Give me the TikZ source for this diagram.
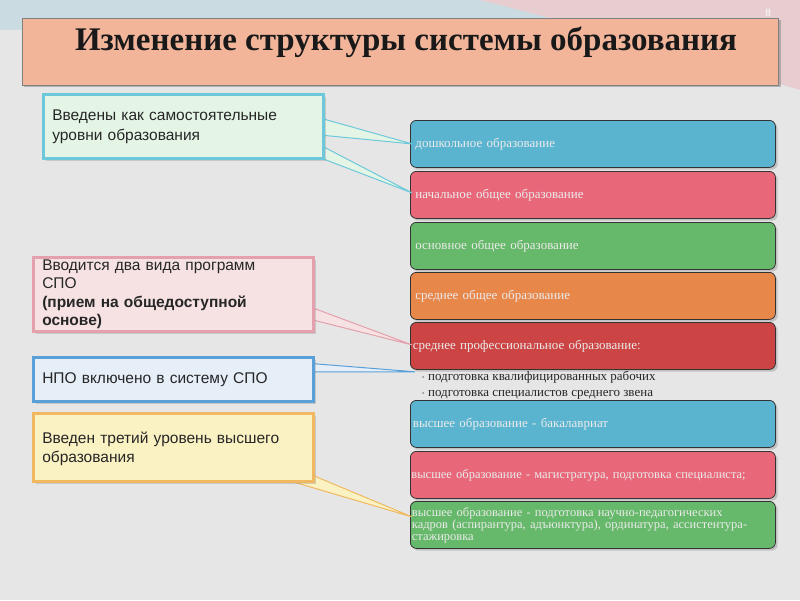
\documentclass[tikz,border=0pt]{standalone}
\usepackage{fontspec}
\setmainfont{Liberation Serif}
\newfontfamily\callfont{Liberation Sans}
\usetikzlibrary{calc,shadows}
\definecolor{bg}{HTML}{E6E6E6}
\definecolor{titlebg}{HTML}{F2B59A}
\definecolor{cblue}{HTML}{5AB4D0}
\definecolor{cpink}{HTML}{E8687A}
\definecolor{cgreen}{HTML}{66B86A}
\definecolor{corange}{HTML}{E8874A}
\definecolor{cred}{HTML}{CC4444}
\definecolor{k1f}{HTML}{E4F5E6}\definecolor{k1d}{HTML}{6CC8DA}
\definecolor{k2f}{HTML}{F6E2E2}\definecolor{k2d}{HTML}{E4A0AC}
\definecolor{k3f}{HTML}{E6EEF8}\definecolor{k3d}{HTML}{5AA0D8}
\definecolor{k4f}{HTML}{FBF2C4}\definecolor{k4d}{HTML}{F0B860}
\tikzset{
 bar/.style={draw=black!80,line width=0.8pt,rounded corners=6pt,minimum width=365pt,minimum height=47pt,anchor=north west,text width=355pt,align=left,font=\fontsize{13}{13.5}\selectfont,text=white!92!black,inner xsep=5pt,drop shadow={opacity=0.35}},
 callout/.style={line width=2.5pt,anchor=north west,align=left,font=\callfont\fontsize{15.5}{19.5}\selectfont,text=black!85,inner xsep=9pt,text width=262pt,drop shadow={opacity=0.3}},
}
\begin{document}
\begin{tikzpicture}[x=1pt,y=-1pt]
\useasboundingbox (0,0) rectangle (800,600);
\fill[bg] (0,0) rectangle (800,600);
\fill[cblue!20!bg] (0,0) rectangle (800,30);
\fill[cpink!20!bg] (480,0) .. controls (600,30) and (700,60) .. (800,90) -- (800,0) -- cycle;
% title
\node[fill=titlebg,draw=black!50,drop shadow={opacity=0.5},minimum width=756pt,minimum height=67pt,anchor=north west] (title) at (22,18) {};
\node[font=\bfseries\fontsize{33}{36}\selectfont,text=black!90] (tt) at (406,42) {Изменение структуры системы образования};
\node[font=\fontsize{11}{11}\selectfont,text=white] (num) at (768,13) {8};
% bars
\node[bar,fill=cblue]   (b1) at (410,120) {дошкольное образование};
\node[bar,fill=cpink]   (b2) at (410,171) {начальное общее образование};
\node[bar,fill=cgreen]  (b3) at (410,222) {основное общее образование};
\node[bar,fill=corange] (b4) at (410,272) {среднее общее образование};
\node[bar,fill=cred,inner xsep=1pt,text width=360pt] (b5) at (410,322) {среднее профессиональное образование:};
\node[anchor=north west,font=\fontsize{13}{15.5}\selectfont,align=left,text=black!85] (bl) at (418,368) {$\cdot$ подготовка квалифицированных рабочих\\$\cdot$ подготовка специалистов среднего звена};
\node[bar,fill=cblue,inner xsep=1pt,text width=360pt]  (b6) at (410,400) {высшее образование - бакалавриат};
\node[bar,fill=cpink,inner xsep=1pt,text width=363pt,font=\fontsize{12.5}{13}\selectfont]  (b7) at (410,451) {высшее образование - магистратура, подготовка специалиста;};
\node[bar,fill=cgreen,inner xsep=1pt,text width=362pt,font=\fontsize{12.5}{12}\selectfont] (b8) at (410,501) {высшее образование - подготовка научно-педагогических\\кадров (аспирантура, адъюнктура), ординатура, ассистентура-\\стажировка};
% wedges
\coordinate (t1) at ($(b1.west)+(2,0)$);
\coordinate (t2) at ($(b2.west)+(2,-2)$);
\coordinate (t5) at ($(b5.west)+(2,-1)$);
\coordinate (t5b) at ($(b5.south west)+(5,2)$);
\coordinate (t8) at ($(b8.west)+(2,-8)$);
\filldraw[k1d,line width=1pt,fill=k1f] (320,118) -- (t1) -- (320,135) -- cycle;
\filldraw[k1d,line width=1pt,fill=k1f] (300,150) -- (t2) -- (320,145) -- cycle;
\filldraw[k2d,line width=1pt,fill=k2f] (305,305) -- (t5) -- (305,318) -- cycle;
\filldraw[k3d,line width=1pt,fill=k3f] (305,363) -- (t5b) -- (305,372) -- cycle;
\filldraw[k4d,line width=1pt,fill=k4f] (300,470) -- (t8) -- (280,478) -- cycle;
% callouts
\node[callout,draw=k1d,fill=k1f,minimum height=64pt,text width=262pt,text depth=22pt] (c1) at (42,93) {Введены как самостоятельные\\уровни образования};
\node[callout,draw=k2d,fill=k2f,minimum height=74pt,inner ysep=0pt,text width=262pt,font=\callfont\fontsize{15.5}{18.5}\selectfont] (c2) at (32,256) {Вводится два вида программ\\СПО\\\textbf{(прием на общедоступной}\\\textbf{основе)}};
\node[callout,draw=k3d,fill=k3f,minimum height=44pt,text width=262pt] (c3) at (32,356) {НПО включено в систему СПО};
\node[callout,draw=k4d,fill=k4f,minimum height=68pt,text width=262pt,text depth=20pt] (c4) at (32,412) {Введен третий уровень высшего\\образования};
\end{tikzpicture}
\end{document}
